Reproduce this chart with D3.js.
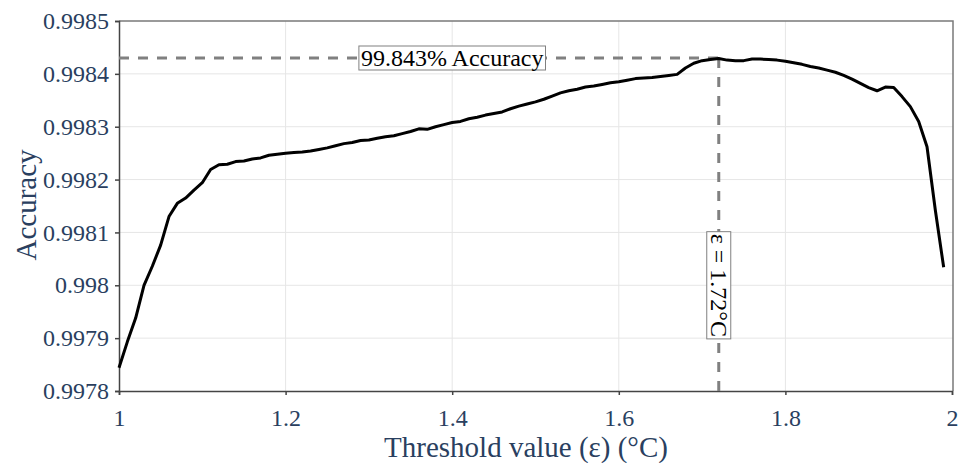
<!DOCTYPE html>
<html>
<head>
<meta charset="utf-8">
<script src="https://cdn.jsdelivr.net/npm/d3@7"></script>
<style>
  body { margin: 0; background: #fff; }
  svg text { font-family: "Liberation Serif", "Times New Roman", serif; }
</style>
</head>
<body>
<div id="chart"></div>
<script>
// Accuracy vs Threshold Line Chart

// Threshold Values (x) in °C
const thresholdValues = [
  1.00, 1.01, 1.02, 1.03, 1.04, 1.05, 1.06, 1.07, 1.08, 1.09,
  1.10, 1.11, 1.12, 1.13, 1.14, 1.15, 1.16, 1.17, 1.18, 1.19,
  1.20, 1.21, 1.22, 1.23, 1.24, 1.25, 1.26, 1.27, 1.28, 1.29,
  1.30, 1.31, 1.32, 1.33, 1.34, 1.35, 1.36, 1.37, 1.38, 1.39,
  1.40, 1.41, 1.42, 1.43, 1.44, 1.45, 1.46, 1.47, 1.48, 1.49,
  1.50, 1.51, 1.52, 1.53, 1.54, 1.55, 1.56, 1.57, 1.58, 1.59,
  1.60, 1.61, 1.62, 1.63, 1.64, 1.65, 1.66, 1.67, 1.68, 1.69,
  1.70, 1.71, 1.72, 1.73, 1.74, 1.75, 1.76, 1.77, 1.78, 1.79,
  1.80, 1.81, 1.82, 1.83, 1.84, 1.85, 1.86, 1.87, 1.88, 1.89,
  1.90, 1.91, 1.92, 1.93, 1.94, 1.95, 1.96, 1.97, 1.98, 1.99
];

// Accuracy Values (y)
const accuracyValues = [
  0.997844, 0.997893, 0.997938, 0.998000, 0.998036, 0.998076, 0.998130, 0.998155, 0.998165, 0.998180,
  0.998194, 0.998219, 0.998228, 0.998229, 0.998234, 0.998235, 0.998239, 0.998241, 0.998246, 0.998248,
  0.998250, 0.998251, 0.998252, 0.998254, 0.998257, 0.998260, 0.998264, 0.998268, 0.998270, 0.998274,
  0.998275, 0.998278, 0.998281, 0.998283, 0.998287, 0.998291, 0.998296, 0.998295, 0.998300, 0.998304,
  0.998308, 0.998310, 0.998315, 0.998318, 0.998322, 0.998325, 0.998328, 0.998334, 0.998339, 0.998343,
  0.998347, 0.998352, 0.998358, 0.998364, 0.998368, 0.998371, 0.998375, 0.998377, 0.998380, 0.998383,
  0.998385, 0.998388, 0.998391, 0.998392, 0.998393, 0.998395, 0.998397, 0.998399, 0.998411, 0.998420,
  0.998425, 0.998427, 0.998429, 0.998426, 0.998425, 0.998425, 0.998428, 0.998428, 0.998427, 0.998426,
  0.998424, 0.998421, 0.998418, 0.998414, 0.998411, 0.998407, 0.998403, 0.998397, 0.998390, 0.998382,
  0.998374, 0.998368, 0.998375, 0.998374, 0.998357, 0.998338, 0.998310, 0.998262, 0.998142, 0.998034
];

// Tick Values For Both Axes
const xTickValues = [1, 1.2, 1.4, 1.6, 1.8, 2];
const yTickValues = [0.9978, 0.9979, 0.998, 0.9981, 0.9982, 0.9983, 0.9984, 0.9985];

// Best Threshold / Best Accuracy Marker
const bestThreshold = 1.72;
const bestAccuracy = 0.99843;

// Annotation Texts
const accuracyLabel = "99.843% Accuracy";
const thresholdLabel = "ε = 1.72°C";

// Define The Dimensions and Margins For The Chart
const margin = {top: 21, right: 8, bottom: 72, left: 119},
      width = 961 - margin.left - margin.right,
      height = 463 - margin.top - margin.bottom;

const tickColor = "#2a3f5f";
const serif = "'Liberation Serif', 'Times New Roman', serif";

const svg = d3.select("#chart")
  .append("svg")
    .attr("width", width + margin.left + margin.right)
    .attr("height", height + margin.top + margin.bottom)
  .append("g")
    .attr("transform", `translate(${margin.left},${margin.top})`);

const dataset = thresholdValues.map((t, i) => ({threshold: t, accuracy: accuracyValues[i]}));

// X Scale Function
const x = d3.scaleLinear()
  .domain([1, 2])
  .range([0, width - 1]);

// Y Scale Function
const y = d3.scaleLinear()
  .domain([0.9978, 0.9985])
  .range([height, 0]);

// Gridlines
svg.append("g")
  .selectAll("line")
  .data(xTickValues.slice(1, -1))
  .enter()
  .append("line")
    .attr("x1", d => x(d)).attr("x2", d => x(d))
    .attr("y1", 0).attr("y2", height)
    .attr("stroke", "#e6e6e6")
    .attr("stroke-width", 1);

svg.append("g")
  .selectAll("line")
  .data(yTickValues.slice(1, -1))
  .enter()
  .append("line")
    .attr("x1", 0).attr("x2", width)
    .attr("y1", d => y(d)).attr("y2", d => y(d))
    .attr("stroke", "#e6e6e6")
    .attr("stroke-width", 1);

// Top and Right Frame
svg.append("path")
  .attr("d", `M0,0H${width}V${height}`)
  .attr("fill", "none")
  .attr("stroke", "#7a7a7a")
  .attr("stroke-width", 1.5);

// X Axis
const xAxis = svg.append("g")
  .attr("transform", `translate(0,${height})`)
  .call(d3.axisBottom(x).tickValues(xTickValues).tickSize(4).tickPadding(14).tickFormat(d => String(d)));

// Y Axis
const yAxis = svg.append("g")
  .call(d3.axisLeft(y).tickValues(yTickValues).tickSize(4).tickPadding(6).tickFormat(d => String(+d.toFixed(4))));

[xAxis, yAxis].forEach(ax => {
  ax.select(".domain").attr("stroke", "#444").attr("stroke-width", 1.5);
  ax.selectAll(".tick line").attr("stroke", "#444").attr("stroke-width", 1.5);
  ax.selectAll(".tick text")
    .attr("fill", tickColor)
    .style("font-size", "24px")
    .style("font-family", "Liberation Serif");
});

// Axis Titles
svg.append("text")
  .attr("text-anchor", "middle")
  .style("font-family", "Liberation Serif")
  .attr("x", width / 2 - 10)
  .attr("y", height + 66)
  .attr("fill", tickColor)
  .style("font-size", "29px")
  .text("Threshold value (ε) (°C)");

svg.append("text")
  .attr("text-anchor", "middle")
  .style("font-family", "Liberation Serif")
  .attr("transform", `translate(${36 - margin.left},${height / 2 - 1}) rotate(-90)`)
  .attr("fill", tickColor)
  .style("font-size", "29px")
  .text("Accuracy");

// Dashed Marker Lines
svg.append("line")
  .attr("x1", 0).attr("x2", x(bestThreshold))
  .attr("y1", y(bestAccuracy)).attr("y2", y(bestAccuracy))
  .attr("stroke", "#808080")
  .attr("stroke-width", 3)
  .attr("stroke-dasharray", "10,9");

svg.append("line")
  .attr("x1", x(bestThreshold)).attr("x2", x(bestThreshold))
  .attr("y1", y(bestAccuracy)).attr("y2", height)
  .attr("stroke", "#808080")
  .attr("stroke-width", 3)
  .attr("stroke-dasharray", "10,9");

// Accuracy Line
const line = d3.line()
  .x(d => x(d.threshold))
  .y(d => y(d.accuracy));

svg.append("path")
  .datum(dataset)
  .attr("fill", "none")
  .attr("stroke", "black")
  .attr("stroke-width", 3)
  .attr("stroke-linejoin", "round")
  .attr("d", line);

// Function to Draw a Boxed Annotation
function boxedLabel(cx, cy, rotate, label) {
  const g = svg.append("g")
    .attr("transform", `translate(${cx},${cy}) rotate(${rotate})`);
  const rect = g.append("rect");
  const t = g.append("text")
    .attr("text-anchor", "middle")
    .attr("dominant-baseline", "central")
    .style("font-family", "Liberation Serif")
    .style("font-size", "24px")
    .attr("fill", "black")
    .text(label);
  const bb = t.node().getBBox();
  rect
    .attr("x", bb.x - 2).attr("y", bb.y + 1)
    .attr("width", bb.width + 4).attr("height", bb.height - 2)
    .attr("fill", "white")
    .attr("stroke", "#808080")
    .attr("stroke-width", 1);
}

boxedLabel(x(1.4), y(bestAccuracy), 0, accuracyLabel);
boxedLabel(x(bestThreshold), y(0.998), 90, thresholdLabel);
</script>
</body>
</html>
